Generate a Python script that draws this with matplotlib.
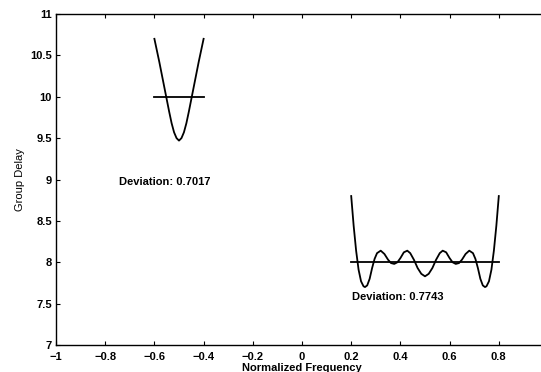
import matplotlib
matplotlib.use("Agg")
import matplotlib.pyplot as plt

plt.rcParams['font.family'] = ['Liberation Sans', 'DejaVu Sans']

# left band: group delay around -0.5
x_left = [-0.60, -0.59, -0.58, -0.57, -0.56, -0.55, -0.54, -0.53, -0.52, -0.51, -0.50,
          -0.49, -0.48, -0.47, -0.46, -0.45, -0.44, -0.43, -0.42, -0.41, -0.40]
gd_left = [10.70, 10.56, 10.42, 10.27, 10.12, 9.97, 9.82, 9.68, 9.57, 9.50, 9.47,
           9.50, 9.57, 9.68, 9.82, 9.97, 10.12, 10.27, 10.42, 10.56, 10.70]

# right band: equiripple group delay
x_right = [0.200, 0.210, 0.220, 0.230, 0.240, 0.250, 0.256, 0.265, 0.275, 0.285,
           0.295, 0.305, 0.320, 0.335, 0.350, 0.362, 0.375, 0.388, 0.400, 0.414,
           0.428, 0.440, 0.455, 0.470, 0.485, 0.500, 0.515, 0.530, 0.545, 0.560,
           0.572, 0.586, 0.600, 0.612, 0.625, 0.638, 0.650, 0.665, 0.680, 0.695,
           0.705, 0.715, 0.725, 0.735, 0.744, 0.750, 0.760, 0.770, 0.780, 0.790, 0.800]
gd_right = [8.80, 8.44, 8.14, 7.91, 7.77, 7.71, 7.70, 7.72, 7.80, 7.93,
            8.04, 8.11, 8.14, 8.10, 8.03, 7.99, 7.98, 8.00, 8.05, 8.12,
            8.14, 8.11, 8.03, 7.93, 7.86, 7.83, 7.86, 7.93, 8.03, 8.11,
            8.14, 8.12, 8.05, 8.00, 7.98, 7.99, 8.03, 8.10, 8.14, 8.11,
            8.04, 7.93, 7.80, 7.72, 7.70, 7.71, 7.77, 7.91, 8.14, 8.44, 8.80]

# target delays
band_left = [-0.6, -0.4]
target_left = [10, 10]
band_right = [0.2, 0.8]
target_right = [8, 8]

labels = ["Deviation: 0.7017", "Deviation: 0.7743"]
label_pos = [(-0.745, 8.97), (0.203, 7.58)]

fig = plt.figure(figsize=(5.41, 3.72), dpi=100)
ax = fig.add_axes([56 / 541, 27 / 372, 492 / 541, 331 / 372])

ax.plot(x_left, gd_left, color='black', lw=1.3)
ax.plot(band_left, target_left, color='black', lw=1.3)
ax.plot(x_right, gd_right, color='black', lw=1.3)
ax.plot(band_right, target_right, color='black', lw=1.3)

for txt, (tx, ty) in zip(labels, label_pos):
    ax.text(tx, ty, txt, fontsize=8, fontweight='bold', ha='left', va='center')

ax.set_xlim(-1, 1)
ax.set_ylim(7, 11)
ax.set_xticks([-1, -0.8, -0.6, -0.4, -0.2, 0, 0.2, 0.4, 0.6, 0.8, 1])
# the label at 1 falls outside the cropped figure, so it is left blank
ax.set_xticklabels(['\u22121', '\u22120.8', '\u22120.6', '\u22120.4', '\u22120.2',
                    '0', '0.2', '0.4', '0.6', '0.8', ''], fontweight='bold')
ax.set_yticks([7, 7.5, 8, 8.5, 9, 9.5, 10, 10.5, 11])
ax.set_yticklabels(['7', '7.5', '8', '8.5', '9', '9.5', '10', '10.5', '11'],
                   fontweight='bold')
ax.tick_params(direction='in', top=True, right=True, labelsize=8, length=3)
ax.tick_params(axis='x', pad=5)
ax.tick_params(axis='y', pad=3)
for s in ax.spines.values():
    s.set_linewidth(1.0)

ax.set_xlabel('Normalized Frequency', fontsize=8, fontweight='bold', labelpad=1)
ax.set_ylabel('Group Delay', fontsize=8, labelpad=4)

fig.savefig('out.png', dpi=100)
